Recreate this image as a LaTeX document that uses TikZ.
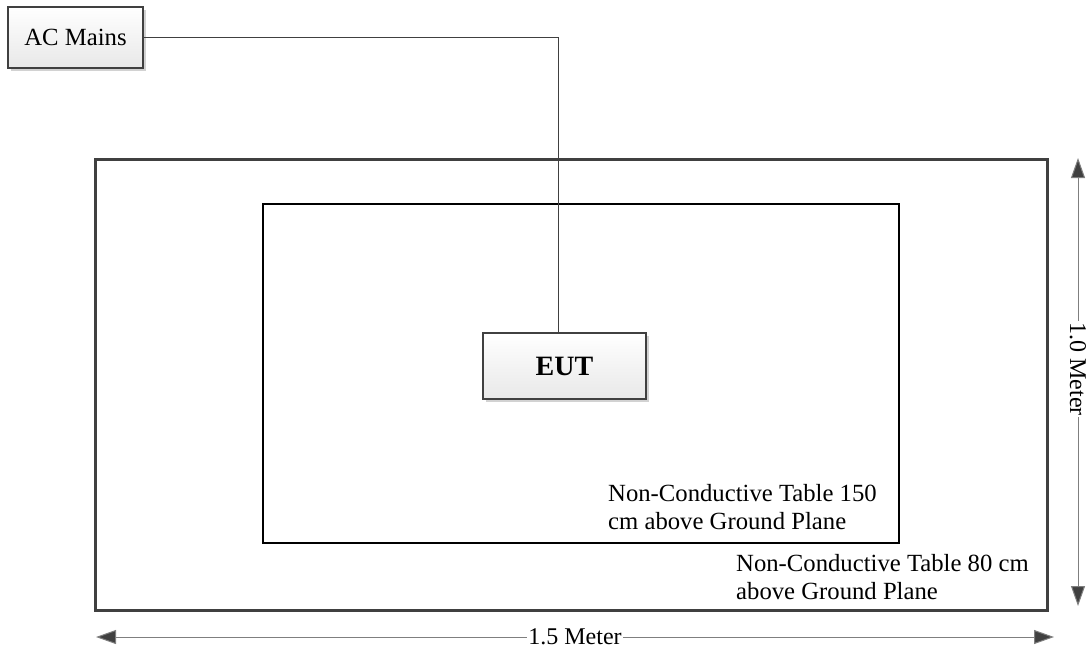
\documentclass[tikz,border=0pt]{standalone}
\usepackage{fontspec}
\setmainfont{Liberation Serif}
\usetikzlibrary{arrows.meta,shadows}
\definecolor{edge}{HTML}{404040}
\definecolor{dimline}{HTML}{7F7F7F}
\tikzset{
  box/.style={draw=edge, line width=2pt, top color=white, bottom color=gray!18,
    drop shadow={shadow xshift=3pt, shadow yshift=-3pt, fill=gray!35, opacity=1},
    inner sep=0pt, font=\fontsize{24.7}{28}\selectfont},
  wire/.style={draw=edge, line width=1pt},
  dim/.style={draw=dimline, line width=1pt, {Triangle[length=20pt,width=14pt,fill=edge]}-{Triangle[length=20pt,width=14pt,fill=edge]}},
  dimlabel/.style={fill=white, inner sep=1pt, font=\fontsize{24}{28}\selectfont},
  note/.style={anchor=north west, inner sep=0pt, align=left, font=\fontsize{24.7}{28}\selectfont}
}
\begin{document}
\begin{tikzpicture}[x=1pt,y=-1pt]
\useasboundingbox (0,0) rectangle (1091,651);
% outer table
\coordinate (o1) at (95,159);
\coordinate (o2) at (1047,610);
\draw[draw=edge, line width=3pt] (o1) rectangle (o2);
% inner table
\coordinate (i1) at (263,204);
\coordinate (i2) at (899,543);
\draw[black, line width=1.2pt] (i1) rectangle (i2);
% boxes
\node[box, minimum width=135pt, minimum height=61pt] (acm) at (75.5,37.5) {AC Mains};
\node[box, minimum width=163pt, minimum height=66pt, font=\fontsize{28}{32}\selectfont\bfseries] (eut) at (564.5,366) {EUT};
\draw[wire] (acm.east) -| ([xshift=-6pt]eut.north);
% labels
\node[note] (t150) at (608,484) {Non-Conductive Table 150\\cm above Ground Plane};
\node[note] (t80) at (736,554) {Non-Conductive Table 80 cm\\above Ground Plane};
% dimensions
\coordinate (vt) at (1078,158);
\coordinate (vb) at (1078,606);
\draw[dim] (vt) -- (vb) node[dimlabel, pos=0.471, rotate=-90] (vlab) {1.0 Meter};
\coordinate (hl) at (96,637);
\coordinate (hr) at (1054,637);
\draw[dim] (hl) -- (hr) node[dimlabel, pos=0.5] (hlab) {1.5 Meter};
\end{tikzpicture}
\end{document}
